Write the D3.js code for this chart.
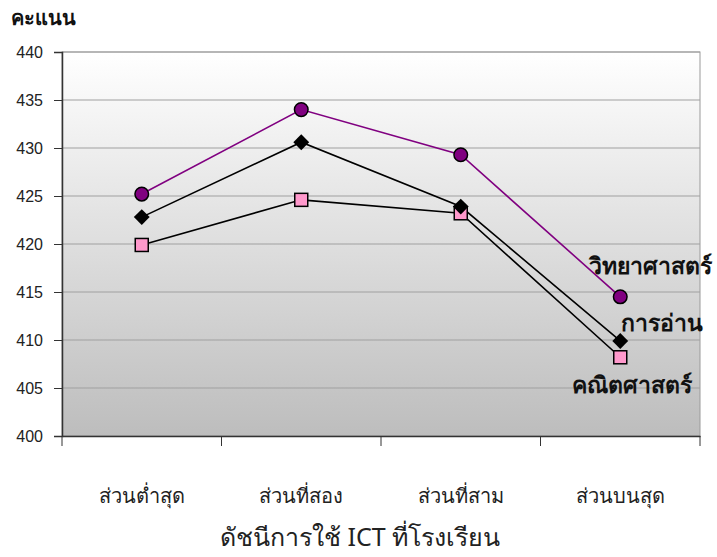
<!DOCTYPE html>
<html>
<head>
<meta charset="utf-8">
<script src="https://cdn.jsdelivr.net/npm/d3@7"></script>
<style>
  body { margin: 0; background: #fff; }
  svg { display: block; }
</style>
</head>
<body>
<svg id="chart"></svg>
<script>
// data
const categories = ["ส่วนต่ำสุด", "ส่วนที่สอง", "ส่วนที่สาม", "ส่วนบนสุด"];
const science = [425.2, 434.0, 429.3, 414.5];
const reading = [422.8, 430.6, 423.9, 409.9];
const maths = [419.9, 424.6, 423.2, 408.2];
const seriesNames = ["วิทยาศาสตร์", "การอ่าน", "คณิตศาสตร์"];
const yTicks = [400, 405, 410, 415, 420, 425, 430, 435, 440];

const width = 717, height = 557;
const margin = { top: 52, right: 17, bottom: 121, left: 62 };
const thaiFont = "'Noto Sans', 'DejaVu Sans', sans-serif";

const svg = d3.select("#chart").attr("width", width).attr("height", height);

const x = d3.scaleBand()
  .domain(categories)
  .range([margin.left, width - margin.right]);

const y = d3.scaleLinear()
  .domain([400, 440])
  .range([height - margin.bottom, margin.top]);

const defs = svg.append("defs");
const grad = defs.append("linearGradient")
  .attr("id", "bg").attr("x1", 0).attr("y1", 0).attr("x2", 0).attr("y2", 1);
grad.append("stop").attr("offset", "0%").attr("stop-color", "#ffffff");
grad.append("stop").attr("offset", "100%").attr("stop-color", "#bdbdbd");

// plot background
svg.append("rect")
  .attr("x", margin.left)
  .attr("y", margin.top)
  .attr("width", width - margin.left - margin.right)
  .attr("height", height - margin.top - margin.bottom)
  .attr("fill", "url(#bg)")
  .attr("stroke", "#9a9a9a");

// gridlines
svg.append("g")
  .selectAll("line")
  .data(yTicks.filter(d => d > 400))
  .enter()
  .append("line")
  .attr("x1", margin.left)
  .attr("x2", width - margin.right)
  .attr("y1", d => y(d))
  .attr("y2", d => y(d))
  .attr("stroke", "#a0a0a0")
  .attr("stroke-width", 1.2);

// y axis
const yAxis = d3.axisLeft(y).tickValues(yTicks).tickSize(8).tickPadding(11);
const gy = svg.append("g")
  .attr("transform", `translate(${margin.left},0)`)
  .call(yAxis);
gy.select(".domain").attr("stroke", "#333").attr("stroke-width", 1.5);
gy.selectAll(".tick line").attr("stroke", "#333");
gy.selectAll("text")
  .style("font-family", "'Liberation Sans', Arial, sans-serif")
  .style("font-size", "16px")
  .attr("fill", "#222");

// x axis
const xAxis = d3.axisBottom(x).tickValues([]).tickSizeOuter(0);
const gx = svg.append("g")
  .attr("transform", `translate(0,${height - margin.bottom})`)
  .call(xAxis);
gx.select(".domain").attr("stroke", "#333").attr("stroke-width", 1.5);

// boundary ticks between categories
const bounds = categories.map(c => x(c)).concat([x.range()[1]]);
gx.selectAll(".bt")
  .data(bounds)
  .enter()
  .append("line")
  .attr("x1", d => d).attr("x2", d => d)
  .attr("y1", 0).attr("y2", 10)
  .attr("stroke", "#333");

// category labels
svg.append("g")
  .selectAll("text")
  .data(categories)
  .enter()
  .append("text")
  .attr("x", d => x(d) + x.bandwidth() / 2)
  .attr("y", 503)
  .attr("text-anchor", "middle")
  .style("font-family", thaiFont)
  .style("font-size", "20px")
  .attr("fill", "#222")
  .text(d => d);

// axis titles
svg.append("text")
  .attr("x", 360)
  .attr("y", 546)
  .attr("text-anchor", "middle")
  .style("font-family", thaiFont)
  .style("font-size", "25px")
  .attr("fill", "#222")
  .text("ดัชนีการใช้ ICT ที่โรงเรียน");

svg.append("text")
  .attr("x", 11)
  .attr("y", 25)
  .style("font-family", thaiFont)
  .style("font-size", "20px")
  .style("font-weight", "bold")
  .attr("fill", "#111")
  .text("คะแนน");

const cx = d => x(d) + x.bandwidth() / 2;
const line = d3.line().x((d, i) => cx(categories[i])).y(d => y(d));

// lines
svg.append("path").datum(maths).attr("d", line)
  .attr("fill", "none").attr("stroke", "#000").attr("stroke-width", 1.6);
svg.append("path").datum(reading).attr("d", line)
  .attr("fill", "none").attr("stroke", "#000").attr("stroke-width", 1.6);
svg.append("path").datum(science).attr("d", line)
  .attr("fill", "none").attr("stroke", "#800080").attr("stroke-width", 1.6);

// markers
svg.append("g").selectAll("rect")
  .data(maths).enter().append("rect")
  .attr("x", (d, i) => cx(categories[i]) - 6.5)
  .attr("y", d => y(d) - 6.5)
  .attr("width", 13).attr("height", 13)
  .attr("fill", "#ff99cc").attr("stroke", "#000").attr("stroke-width", 1.5);

svg.append("g").selectAll("path")
  .data(reading).enter().append("path")
  .attr("d", d3.symbol().type(d3.symbolDiamond2).size(160))
  .attr("transform", (d, i) => `translate(${cx(categories[i])},${y(d)})`)
  .attr("fill", "#000");

svg.append("g").selectAll("circle")
  .data(science).enter().append("circle")
  .attr("cx", (d, i) => cx(categories[i]))
  .attr("cy", d => y(d))
  .attr("r", 6.8)
  .attr("fill", "#800080").attr("stroke", "#000").attr("stroke-width", 1.5);

// series labels near last point
const last = categories.length - 1;
const labelData = [
  { name: seriesNames[0], v: science[last], dx: 30, dy: -23 },
  { name: seriesNames[1], v: reading[last], dx: 42, dy: -10 },
  { name: seriesNames[2], v: maths[last], dx: 12, dy: 36 }
];
svg.append("g").selectAll("text")
  .data(labelData).enter().append("text")
  .attr("x", d => cx(categories[last]) + d.dx)
  .attr("y", d => y(d.v) + d.dy)
  .attr("text-anchor", "middle")
  .style("font-family", thaiFont)
  .style("font-size", "23px")
  .style("font-weight", "600")
  .attr("fill", "#111")
  .text(d => d.name);
</script>
</body>
</html>
